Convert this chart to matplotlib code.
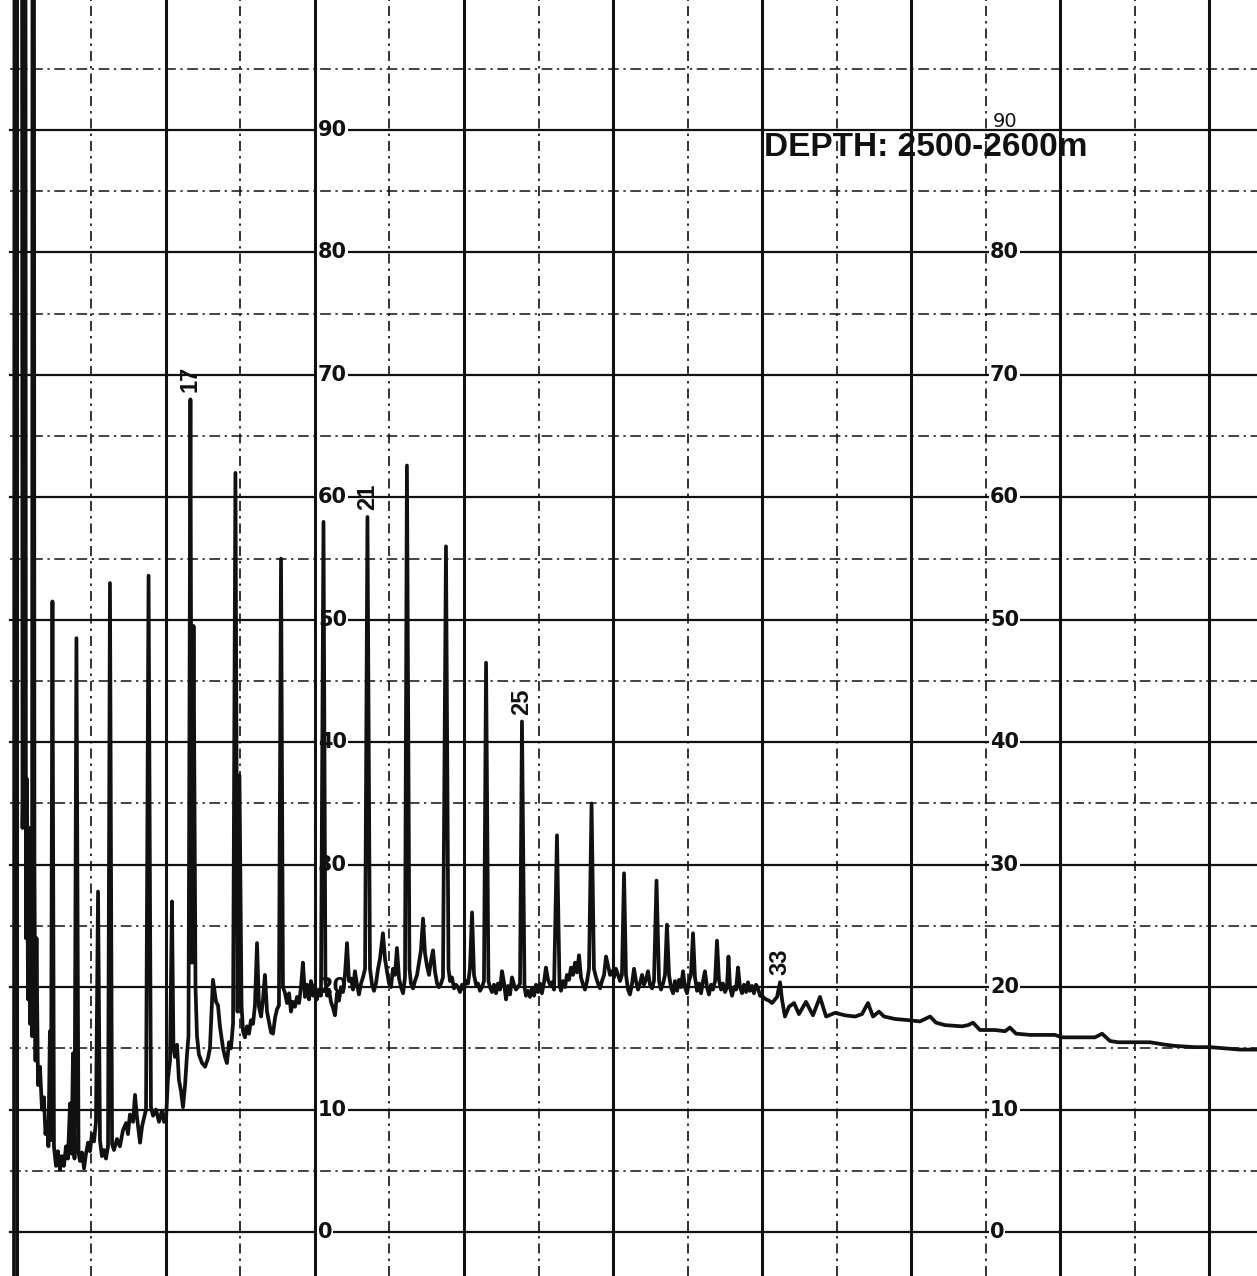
import numpy as np
import matplotlib.pyplot as plt

# Chart position in divisions (10 per heavy ruling) and recorder response (% full scale).
# Solvent front: pen sweeps off the top of the paper several times.
front_t = [-0.20, -0.17, 0.34, 0.37, 0.44, 0.50, 0.57, 0.60, 0.67, 0.74, 0.81, 0.87,
           0.94, 1.01, 1.04, 1.14, 1.17, 1.24, 1.31]
front_r = [-4, 106, 106, 33, 40, 106, 106, 24, 37, 19, 33, 17,
           30, 16, 106, 106, 30, 14, 24]

# Light end up to the first heavy ruling
light_t = [1.41, 1.54, 1.68, 1.81, 1.91, 2.01, 2.11, 2.21, 2.28, 2.38, 2.48, 2.62,
           2.75, 2.89, 3.02, 3.15, 3.29, 3.42, 3.56, 3.66, 3.76, 3.86, 3.99, 4.13,
           4.23, 4.36, 4.50, 4.63, 4.77, 4.90, 5.03, 5.17, 5.30, 5.44, 5.57, 5.70,
           5.84, 5.97, 6.11, 6.24, 6.38, 6.51, 6.71, 6.91, 7.11, 7.32, 7.45, 7.58,
           7.79, 7.92, 8.05, 8.26, 8.39, 8.52, 8.66, 8.83, 8.99, 9.13, 9.33, 9.53,
           9.73, 9.87, 10.00]
light_r = [12.0, 13.5, 10.0, 11.0, 8.0, 9.0, 7.0, 16.4, 7.5, 51.5, 7.0, 5.4,
           6.6, 5.1, 6.2, 5.4, 7.0, 6.0, 10.5, 6.4, 14.6, 6.0, 48.5, 6.5,
           5.8, 6.5, 5.2, 6.4, 7.3, 6.6, 8.0, 7.4, 9.0, 27.8, 7.5, 6.2,
           6.7, 6.0, 7.0, 53.0, 7.2, 6.7, 7.6, 7.0, 8.3, 8.9, 8.0, 9.6,
           9.0, 11.2, 9.4, 7.3, 8.6, 9.3, 10.0, 53.6, 10.2, 9.5, 10.0, 9.0,
           9.9, 9.0, 9.1]

# n-C16 .. n-C21 with pristane / phytane shoulders
mid_t = [10.13, 10.27, 10.40, 10.50, 10.60, 10.74, 10.87, 11.01, 11.14, 11.28, 11.41, 11.51,
         11.64, 11.74, 11.85, 11.98, 12.08, 12.21, 12.42, 12.62, 12.82, 12.95, 13.15, 13.36,
         13.49, 13.62, 13.83, 13.96, 14.09, 14.23, 14.36, 14.50, 14.66, 14.80, 14.93, 15.07,
         15.17, 15.30, 15.44, 15.57, 15.70, 15.84, 15.97, 16.11, 16.24, 16.38, 16.51, 16.64,
         16.78, 16.91, 17.05, 17.18, 17.32, 17.45, 17.58, 17.72, 17.85, 17.99, 18.12, 18.26,
         18.39, 18.52, 18.66, 18.79, 18.93, 19.06, 19.19, 19.33, 19.46, 19.60, 19.73, 19.87,
         20.00, 20.13, 20.27, 20.40, 20.57, 20.70, 20.81, 20.94, 21.07, 21.21, 21.34, 21.48,
         21.61, 21.74, 21.88, 22.01, 22.15, 22.28, 22.42, 22.55, 22.68, 22.82, 22.95, 23.09,
         23.22, 23.36, 23.52, 23.69]
mid_r = [12.5, 14.0, 27.0, 15.0, 14.3, 15.3, 12.4, 11.5, 10.2, 12.0, 14.5, 16.0,
         68.0, 22.0, 49.5, 20.0, 16.0, 14.5, 13.8, 13.5, 14.2, 15.0, 20.6, 18.8,
         18.5, 16.8, 15.0, 14.3, 13.8, 15.5, 15.0, 17.0, 62.0, 18.0, 37.3, 18.5,
         16.4, 15.9, 16.8, 16.2, 17.3, 17.0, 18.5, 23.6, 18.4, 17.6, 19.0, 21.0,
         18.0, 17.2, 16.3, 16.2, 17.5, 18.2, 18.5, 55.0, 20.0, 19.5, 18.7, 19.5,
         18.0, 18.8, 18.4, 19.2, 18.7, 20.0, 22.0, 19.2, 20.2, 19.0, 20.5, 19.3,
         20.2, 19.0, 19.8, 19.3, 58.0, 20.5, 19.3, 19.8, 18.8, 18.3, 17.7, 19.5,
         18.9, 20.0, 19.6, 21.0, 23.6, 20.5, 20.7, 19.8, 21.3, 20.2, 19.4, 20.3,
         20.8, 21.5, 58.4, 21.5]

# n-C22 .. n-C28
heavy_t = [23.83, 23.96, 24.09, 24.23, 24.36, 24.56, 24.70, 24.83, 24.97, 25.10, 25.23, 25.37,
           25.50, 25.64, 25.77, 25.91, 26.04, 26.17, 26.34, 26.44, 26.58, 26.71, 26.85, 26.98,
           27.11, 27.25, 27.38, 27.52, 27.65, 27.79, 27.92, 28.05, 28.19, 28.32, 28.46, 28.59,
           28.79, 28.96, 29.06, 29.19, 29.33, 29.46, 29.60, 29.73, 29.87, 30.00, 30.13, 30.27,
           30.40, 30.54, 30.67, 30.81, 30.94, 31.07, 31.21, 31.34, 31.48, 31.64, 31.74, 31.88,
           32.01, 32.15, 32.28, 32.42, 32.55, 32.68, 32.82, 32.95, 33.09, 33.22, 33.36, 33.49,
           33.62, 33.76, 33.89, 34.06, 34.16, 34.30, 34.43, 34.56, 34.70, 34.83, 34.97, 35.10,
           35.23, 35.37, 35.50, 35.64, 35.77, 35.91, 36.04, 36.24, 36.41, 36.51, 36.64, 36.78,
           36.91, 37.05, 37.18, 37.32, 37.45, 37.58, 37.72, 37.85, 37.99, 38.12, 38.26, 38.39,
           38.56, 38.72, 38.86, 38.99, 39.13, 39.26, 39.40, 39.53, 39.66, 39.80, 39.93, 40.07,
           40.20, 40.34, 40.47, 40.60, 40.74, 40.87]
heavy_r = [20.2, 19.7, 20.3, 21.5, 22.3, 24.4, 22.3, 21.3, 20.3, 20.0, 21.5, 21.0,
           23.2, 20.7, 20.0, 19.5, 20.8, 62.6, 21.5, 20.3, 19.9, 20.5, 21.0, 22.0,
           23.0, 25.6, 22.8, 21.7, 21.0, 22.2, 23.0, 21.3, 20.3, 20.0, 20.3, 20.8,
           56.0, 21.5, 20.5, 20.8, 19.9, 20.2, 20.0, 19.6, 20.2, 19.8, 20.5, 20.3,
           21.5, 26.1, 21.0, 20.2, 20.3, 19.7, 20.0, 20.5, 46.5, 20.5, 20.0, 19.6,
           20.2, 19.5, 20.3, 19.8, 21.3, 20.4, 19.0, 20.1, 19.4, 20.8, 20.2, 19.8,
           20.0, 20.3, 41.7, 20.0, 19.3, 19.7, 19.2, 19.9, 19.3, 20.2, 19.6, 20.3,
           19.5, 20.4, 21.6, 20.6, 20.2, 20.4, 19.8, 32.4, 20.2, 19.7, 20.5, 20.0,
           21.0, 20.6, 21.6, 21.0, 22.0, 21.2, 22.6, 20.8, 20.2, 19.8, 20.5, 21.5,
           35.0, 21.5, 20.8, 20.3, 19.9, 20.5, 21.0, 22.5, 21.8, 21.0, 21.3, 20.8,
           21.5, 21.0, 20.5, 21.0, 29.3, 21.0]

# n-C29 .. n-C33
wax_t = [41.01, 41.14, 41.28, 41.41, 41.54, 41.68, 41.81, 41.95, 42.08, 42.21, 42.35, 42.48,
         42.62, 42.75, 42.92, 43.09, 43.22, 43.36, 43.49, 43.62, 43.76, 43.89, 44.03, 44.16,
         44.30, 44.43, 44.56, 44.70, 44.83, 44.97, 45.10, 45.23, 45.37, 45.50, 45.64, 45.77,
         45.91, 46.04, 46.17, 46.31, 46.44, 46.58, 46.71, 46.85, 46.98, 47.11, 47.25, 47.38,
         47.52, 47.65, 47.75, 47.85, 47.99, 48.12, 48.26, 48.39, 48.52, 48.66, 48.79, 48.93,
         49.06, 49.19, 49.33, 49.46, 49.60, 49.73, 49.87, 50.07, 50.27, 50.47, 50.67, 50.87,
         51.01, 51.21, 51.34]
wax_r = [19.8, 19.4, 20.3, 21.5, 20.5, 19.8, 20.3, 21.0, 20.2, 20.6, 21.3, 20.2,
         19.9, 20.5, 28.7, 20.5, 19.8, 20.3, 21.0, 25.1, 21.0, 20.0, 19.5, 20.5,
         19.7, 20.6, 20.0, 21.3, 20.0, 19.5, 20.5, 21.0, 24.4, 20.8, 19.7, 20.3,
         19.5, 20.5, 21.3, 20.0, 19.4, 20.2, 19.8, 20.5, 23.8, 20.6, 19.8, 20.3,
         19.6, 20.0, 22.5, 20.0, 19.3, 20.0, 19.8, 21.6, 20.0, 19.5, 20.2, 19.6,
         20.4, 19.7, 20.1, 19.5, 20.2, 19.9, 19.3, 19.2, 19.0, 18.9, 18.7, 19.0,
         19.2, 20.4, 19.0]

# Column bleed after n-C33
tail_t = [51.54, 51.81, 52.15, 52.48, 52.95, 53.42, 53.89, 54.30, 54.90, 55.57, 56.24, 56.71,
          57.11, 57.45, 57.85, 58.19, 58.93, 59.87, 60.60, 61.28, 61.68, 62.28, 63.42, 63.83,
          64.16, 64.63, 65.64, 66.31, 66.64, 67.05, 67.99, 69.66, 70.13, 71.68, 72.35, 72.82,
          73.36, 73.89, 76.04, 77.05, 77.72, 79.06, 80.07, 81.07, 82.08, 83.42]
tail_r = [17.6, 18.4, 18.7, 17.8, 18.8, 17.7, 19.2, 17.6, 17.9, 17.7, 17.6, 17.8,
          18.7, 17.6, 18.0, 17.6, 17.4, 17.3, 17.2, 17.6, 17.1, 16.9, 16.8, 16.9,
          17.1, 16.5, 16.5, 16.4, 16.7, 16.2, 16.1, 16.1, 15.9, 15.9, 15.9, 16.2,
          15.6, 15.5, 15.5, 15.3, 15.2, 15.1, 15.1, 15.0, 14.9, 14.9]

# n-alkane labels written on the chart
peak_names = ['17', '21', '25', '33']
peak_t = [11.64, 23.52, 33.89, 51.21]
peak_top = [68.0, 58.4, 41.7, 20.4]

scale_left = [0, 10, 20, 30, 40, 50, 60, 70, 80, 90]
scale_right = [0, 10, 20, 30, 40, 50, 60, 70, 80]

trace_t = front_t + light_t + mid_t + heavy_t + wax_t + tail_t
trace_r = front_r + light_r + mid_r + heavy_r + wax_r + tail_r

fig = plt.figure(figsize=(12.57, 12.76), dpi=100)
ax = fig.add_axes([0, 0, 1, 1])
ax.set_xlim(-1.14, 83.22)
ax.set_ylim(-3.59, 100.62)
ax.axis('off')

ink = '#111111'
dashdot = (0, (7, 3, 1.5, 3))

# chart paper ruling
for v in range(0, 100, 10):
    ax.axhline(v, xmin=0.008, color=ink, lw=1.6, zorder=1)
for v in range(5, 100, 10):
    ax.axhline(v, xmin=0.008, color=ink, lw=1.1, ls=dashdot, zorder=1)
for t in range(0, 90, 10):
    ax.axvline(t, color=ink, lw=2.2, zorder=1)
for t in range(5, 80, 10):
    ax.axvline(t, color=ink, lw=1.2, ls=(0, (6, 3, 1.5, 3)), zorder=1)

# printed scale numbers, two columns
label_box = dict(facecolor='white', edgecolor='none', pad=0.6)
for v in scale_left:
    ax.text(20.2, v, str(v), ha='left', va='center', fontsize=15, fontweight='bold',
            family='DejaVu Sans', color=ink, bbox=label_box, zorder=2)
for v in scale_right:
    ax.text(65.3, v, str(v), ha='left', va='center', fontsize=15, fontweight='bold',
            family='DejaVu Sans', color=ink, bbox=label_box, zorder=2)
# top number of the right column sits half under the depth caption
ax.text(65.5, 90.7, '90', ha='left', va='center', fontsize=14,
        family='DejaVu Sans', color=ink, zorder=2)

ax.plot(trace_t, trace_r, color=ink, lw=2.7, solid_joinstyle='round', zorder=3)

for name, t, top in zip(peak_names, peak_t, peak_top):
    ax.annotate(name, (t, top), xytext=(0, 5), textcoords='offset points',
                rotation=90, ha='center', va='bottom', fontsize=17,
                fontweight='bold', family='Liberation Sans', color=ink, zorder=4)

ax.text(50.15, 87.9, 'DEPTH: 2500-2600m', ha='left', va='baseline', fontsize=24,
        fontweight='bold', family='Liberation Sans', color=ink, zorder=5)

fig.savefig('out.png', dpi=100)
